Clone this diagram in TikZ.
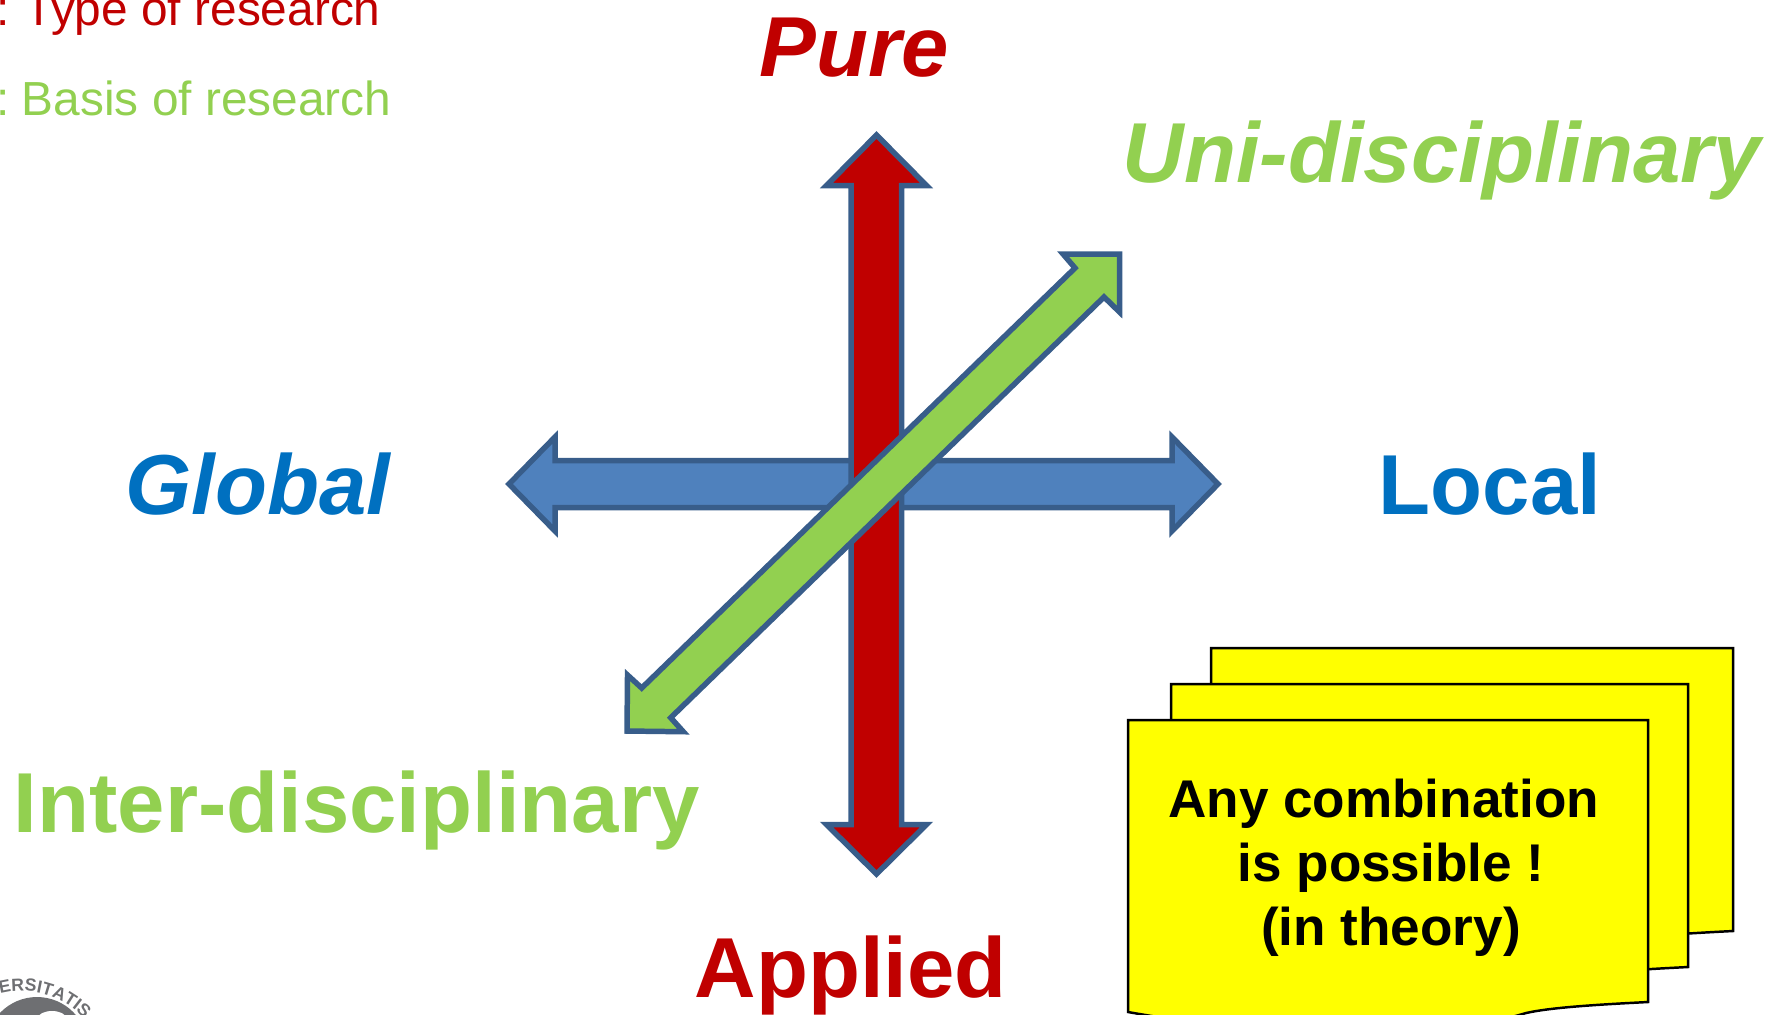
\documentclass[tikz,border=0pt]{standalone}
\usepackage{fontspec}
\usepackage{xcolor}
\setmainfont{Liberation Sans}
\usetikzlibrary{decorations.text}

\definecolor{typered}{HTML}{C00000}
\definecolor{basisgreen}{HTML}{92D050}
\definecolor{globalblue}{HTML}{0070C0}
\definecolor{arrowblue}{HTML}{4F81BD}
\definecolor{arrowline}{HTML}{385D8A}
\definecolor{logogray}{HTML}{6E6F72}
\definecolor{noteyellow}{HTML}{FFFF00}

\tikzset{
    axisarrow/.style={draw=arrowline,line width=1.56pt,miter limit=10},
    biglabel/.style={anchor=base west,inner sep=0pt,font=\fontsize{24.2}{29}\selectfont\bfseries},
    bigitalic/.style={biglabel,font=\fontsize{24.2}{29}\selectfont\bfseries\itshape},
    keylabel/.style={anchor=base west,inner sep=0pt,font=\fontsize{13.6}{16}\selectfont},
    notesheet/.style={draw=black,line width=0.7pt,fill=noteyellow},
}

\begin{document}
\begin{tikzpicture}[x=0.01cm,y=-0.01cm]
    \path[use as bounding box,clip] (0,0) rectangle (1786,1014);

    % Key
    \node[keylabel,text=typered] (keytype) at (-4,25) {:\hspace{4.1pt}Type of research};
    \node[keylabel,text=basisgreen] (keybasis) at (-4,115) {:\hspace{3.4pt}Basis of research};

    % Arrows
    \draw[axisarrow,fill=arrowblue] (509,484) -- (555,437) -- (555,460.5) -- (1172,460.5) -- (1172,437)
        -- (1218,484) -- (1172,531) -- (1172,507.5) -- (555,507.5) -- (555,531) -- cycle;
    \draw[axisarrow,fill=typered] (876.5,135) -- (926.5,185.5) -- (901.5,185.5) -- (901.5,824.5) -- (926.5,824.5)
        -- (876.5,874) -- (826.5,824.5) -- (851,824.5) -- (851,185.5) -- (826.5,185.5) -- cycle;
    \draw[axisarrow,fill=basisgreen] (1119.5,254) -- (1119.5,312) -- (1104,297) -- (670.7,717.7) -- (683.3,731.7)
        -- (627,731) -- (627.5,675) -- (641.7,688) -- (1075,268) -- (1063,254) -- cycle;

    % Labels for arrows
    \node[bigitalic,text=typered] (pure) at (759,76) {Pure};
    \node[biglabel,text=typered] (applied) at (694,997) {Applied};
    \node[bigitalic,text=globalblue] (global) at (125,514) {Global};
    \node[biglabel,text=globalblue] (local) at (1378,514) {Local};
    \node[bigitalic,text=basisgreen] (uni) at (1122,182) {Uni-disciplinary};
    \node[biglabel,text=basisgreen] (inter) at (13,832) {Inter-disciplinary};

    % Sheets
    \foreach \x/\y/\w/\h in {1211/648/522/283,1171/684/517/283,1128/720/520/282}
        \draw[notesheet] (\x,\y) -- (\x+\w,\y) -- (\x+\w,\y+\h)
            .. controls (\x+\w-60,\y+\h+3) and (\x+\w-100,\y+\h+6) .. (\x+\w-122,\y+\h+11)
            .. controls (\x+\w-220,\y+\h+40) and (\x+\w-350,\y+\h+40) .. (\x,\y+\h+10) -- cycle;
    \node[inner sep=0pt,align=center,font=\fontsize{15.1}{18.2}\selectfont\bfseries]
        (note) at (1391,868) {Any combination\hspace*{.278em}\\is possible !\\(in theory)};

    % Seal
    \fill[logogray] (37,1048) circle (51);
    \fill[white] (52,1018) ellipse (14 and 7);
    \path[decorate,decoration={text along path,text align=left,
        text={|\fontsize{5}{6}\selectfont\bfseries\color{logogray}|VERSITATIS}}]
        (22,1075) ++(247:84) arc[start angle=247,end angle=340,radius=84];
\end{tikzpicture}
\end{document}
